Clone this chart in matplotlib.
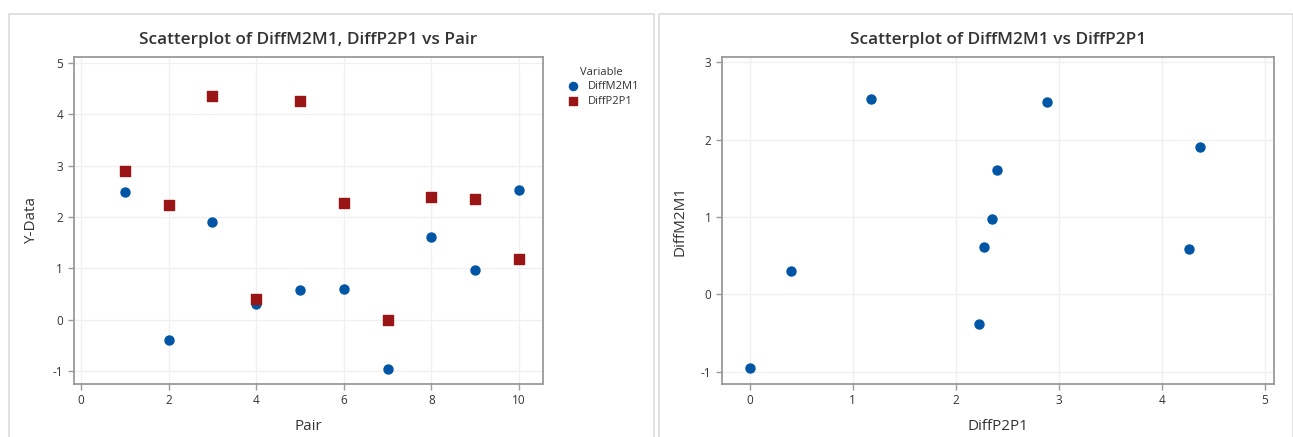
import matplotlib.pyplot as plt
from matplotlib.patches import Rectangle

pair = [1, 2, 3, 4, 5, 6, 7, 8, 9, 10]
diff_m2m1 = [2.49, -0.39, 1.91, 0.30, 0.59, 0.61, -0.95, 1.61, 0.98, 2.53]
diff_p2p1 = [2.89, 2.23, 4.37, 0.40, 4.26, 2.27, 0.00, 2.40, 2.35, 1.18]

blue = "#0055a5"
red = "#9a1616"
text_col = "#333333"
frame_col = "#9a9a9a"

plt.rcParams['font.family'] = ['Open Sans', 'DejaVu Sans']
plt.rcParams['axes.unicode_minus'] = False

W, H = 1293, 437
fig = plt.figure(figsize=(W / 100, H / 100), dpi=100)

# panel outlines
for x0, x1 in [(9, 654), (659, 1293)]:
    fig.patches.append(Rectangle((x0 / W, -0.01), (x1 - x0) / W, (H - 14) / H + 0.01,
                                 transform=fig.transFigure, fill=False,
                                 edgecolor="#dcdcdc", lw=1.2))


def style(ax):
    for s in ax.spines.values():
        s.set_color(frame_col)
        s.set_linewidth(1.3)
    ax.tick_params(colors=text_col, labelsize=8.5, length=4, width=1, color=frame_col)
    ax.grid(True, color="#f0f0f0", lw=1)
    ax.set_axisbelow(True)


# left panel
ax1 = fig.add_axes([73.6 / W, 1 - 384 / H, (543 - 73.6) / W, (384 - 57) / H])
ax1.scatter(pair, diff_m2m1, marker="o", s=42, color=blue, label="DiffM2M1", zorder=3)
ax1.scatter(pair, diff_p2p1, marker="s", s=45, color=red, label="DiffP2P1", zorder=3)
ax1.set_xlim(-0.17, 10.55)
ax1.set_ylim(-1.25, 5.12)
ax1.set_xticks(range(0, 11, 2))
ax1.set_yticks(range(-1, 6))
style(ax1)
ax1.set_title("Scatterplot of DiffM2M1, DiffP2P1 vs Pair", fontsize=12.4, color=text_col,
              pad=9, fontweight="semibold")
ax1.set_xlabel("Pair", fontsize=11, color=text_col, labelpad=8)
ax1.set_ylabel("Y-Data", fontsize=11, color=text_col, labelpad=10)
leg = ax1.legend(title="Variable", loc="upper left", bbox_to_anchor=(1.02, 1.0),
                 frameon=False, fontsize=8, title_fontsize=8, handletextpad=0.3,
                 labelspacing=0.3, markerscale=0.9)
for t in leg.get_texts():
    t.set_color(text_col)
leg.get_title().set_color(text_col)

# right panel
ax2 = fig.add_axes([722 / W, 1 - 384 / H, (1274 - 722) / W, (384 - 57) / H])
ax2.scatter(diff_p2p1, diff_m2m1, marker="o", s=42, color=blue, zorder=3)
ax2.set_xlim(-0.27, 5.09)
ax2.set_ylim(-1.16, 3.07)
ax2.set_xticks(range(0, 6))
ax2.set_yticks(range(-1, 4))
style(ax2)
ax2.set_title("Scatterplot of DiffM2M1 vs DiffP2P1", fontsize=12.4, color=text_col,
              pad=9, fontweight="semibold")
ax2.set_xlabel("DiffP2P1", fontsize=11, color=text_col, labelpad=8)
ax2.set_ylabel("DiffM2M1", fontsize=11, color=text_col, labelpad=10)

fig.savefig("out.png", dpi=100, facecolor="white")
